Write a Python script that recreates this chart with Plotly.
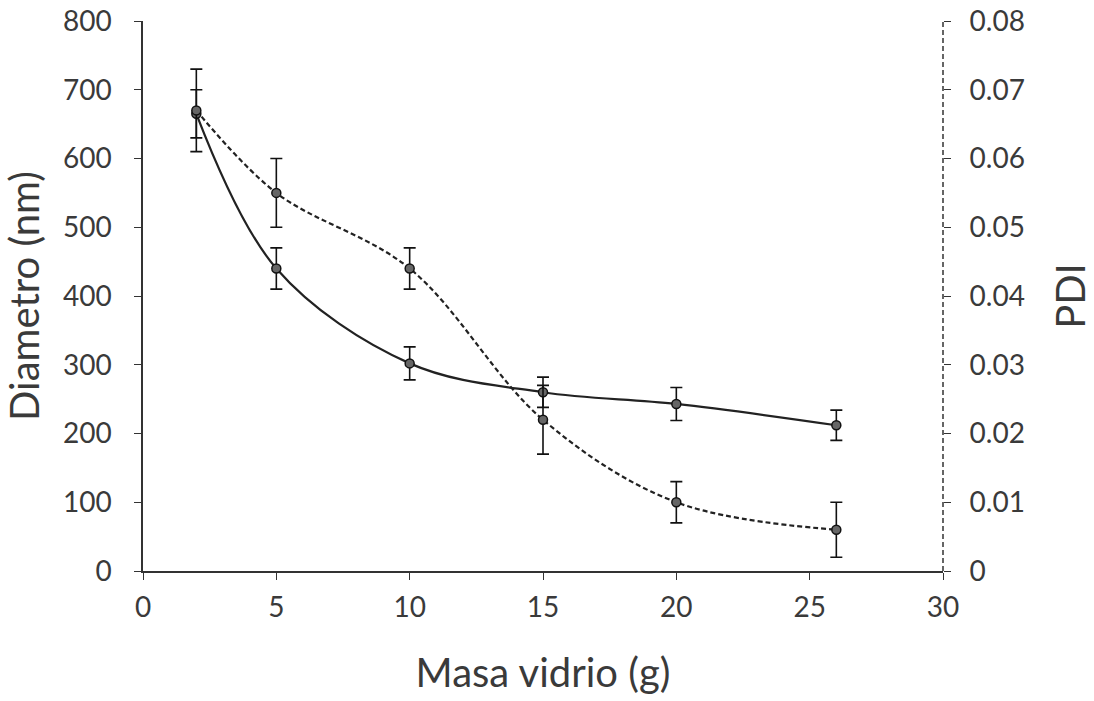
import plotly.graph_objects as go

masa = [2, 5, 10, 15, 20, 26]
diametro = [665, 440, 302, 260, 243, 212]
diametro_err = [35, 30, 24, 22, 24, 22]
pdi = [0.067, 0.055, 0.044, 0.022, 0.010, 0.006]
pdi_err = [0.006, 0.005, 0.003, 0.005, 0.003, 0.004]

font = "Lato"
fig = go.Figure()
fig.add_trace(go.Scatter(
    x=masa, y=diametro, mode="lines+markers",
    line=dict(color="#222", width=2.2, shape="spline", smoothing=1),
    marker=dict(symbol="circle", size=9, color="#666", line=dict(color="#111", width=1.5)),
    error_y=dict(type="data", array=diametro_err, color="#111", thickness=1.6, width=6),
    showlegend=False))
fig.add_trace(go.Scatter(
    x=masa, y=pdi, yaxis="y2", mode="lines+markers",
    line=dict(color="#222", width=2.2, shape="spline", smoothing=1, dash="5px,3px"),
    marker=dict(symbol="circle", size=9, color="#666", line=dict(color="#111", width=1.5)),
    error_y=dict(type="data", array=pdi_err, color="#111", thickness=1.6, width=6),
    showlegend=False))

fig.update_layout(
    width=1094, height=701,
    margin=dict(l=143, r=151, t=21, b=130, autoexpand=False),
    paper_bgcolor="white", plot_bgcolor="white",
    font=dict(family=font, color="#3a3a3a", size=28),
    xaxis=dict(range=[0, 30], dtick=5, showgrid=False, zeroline=False,
               showline=True, linecolor="#333", linewidth=1.5,
               ticks="outside", ticklen=7, tickcolor="#333", ticklabelstandoff=4,
               title=dict(text="Masa vidrio (g)", font=dict(size=40), standoff=37)),
    yaxis=dict(range=[0, 800], dtick=100, showgrid=False, zeroline=False,
               showline=True, linecolor="#333", linewidth=1.5,
               ticks="outside", ticklen=7, tickcolor="#333", ticklabelstandoff=17,
               title=dict(text="Diametro (nm)", font=dict(size=40), standoff=12)),
    yaxis2=dict(range=[0, 0.08], dtick=0.01, overlaying="y", side="right",
                showgrid=False, zeroline=False, showline=False,
                ticks="outside", ticklen=7, tickcolor="#333", ticklabelstandoff=13,
                title=dict(text="PDI", font=dict(size=40), standoff=34)),
    shapes=[dict(type="line", xref="paper", yref="paper", x0=1, x1=1, y0=0, y1=1,
                 line=dict(color="#333", width=1.5, dash="5px,3px"))],
)
fig.write_html("out.html", post_script="document.body.style.margin='0';",
               config={"displayModeBar": False})
